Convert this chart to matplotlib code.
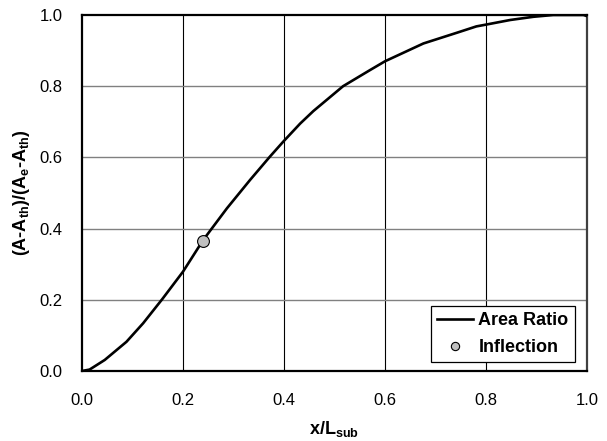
import matplotlib
matplotlib.use("Agg")
import matplotlib.pyplot as plt

plt.rcParams['font.family'] = ['Liberation Sans', 'DejaVu Sans']
plt.rcParams['mathtext.fontset'] = 'custom'
plt.rcParams['mathtext.rm'] = 'Liberation Sans:bold'
plt.rcParams['mathtext.it'] = 'Liberation Sans:bold'
plt.rcParams['mathtext.bf'] = 'Liberation Sans:bold'

# area ratio along the subsonic section
x_pos = [0.0, 0.015, 0.045, 0.088, 0.121, 0.159, 0.200, 0.240, 0.287, 0.333,
         0.372, 0.399, 0.432, 0.458, 0.517, 0.570, 0.600, 0.676, 0.742, 0.781,
         0.800, 0.848, 0.894, 0.933, 0.993, 1.0]
area_ratio = [0.0, 0.004, 0.031, 0.082, 0.134, 0.202, 0.279, 0.368, 0.457, 0.537,
              0.602, 0.645, 0.695, 0.730, 0.800, 0.845, 0.870, 0.920, 0.950, 0.968,
              0.973, 0.986, 0.995, 1.0, 1.0, 0.997]

# inflection point
infl_x = [0.240]
infl_y = [0.366]

ticks = [0.0, 0.2, 0.4, 0.6, 0.8, 1.0]
tick_labels = ['0.0', '0.2', '0.4', '0.6', '0.8', '1.0']

fig = plt.figure(figsize=(6.07, 4.41), dpi=100)
ax = fig.add_axes([82 / 607, 1 - 371 / 441, 505 / 607, 356 / 441])

# grid: vertical black, horizontal gray
for t in ticks[1:-1]:
    ax.axvline(t, color='black', lw=0.8, zorder=1)
for t in ticks[1:-1]:
    ax.axhline(t, color='#808080', lw=1.0, zorder=1)

ax.plot(x_pos, area_ratio, color='black', lw=1.9, label='Area Ratio', zorder=3)
ax.plot(infl_x, infl_y, ls='none', marker='o', ms=8.5, mfc='#c0c0c0',
        mec='black', mew=0.8, label='Inflection', zorder=4)

ax.set_xlim(0, 1)
ax.set_ylim(0, 1)
ax.set_xticks(ticks)
ax.set_xticklabels(tick_labels)
ax.set_yticks(ticks)
ax.set_yticklabels(tick_labels)
ax.tick_params(axis='both', length=0, labelsize=12)
ax.tick_params(axis='x', pad=16)
ax.tick_params(axis='y', pad=14)

for s in ax.spines.values():
    s.set_linewidth(1.6)
    s.set_color('black')
ax.spines['right'].set_color('#404040')

ax.set_xlabel(r'x/L$_{\mathbf{sub}}$', fontsize=13, fontweight='bold')
ax.set_ylabel(r'(A-A$_{\mathbf{th}}$)/(A$_{\mathbf{e}}$-A$_{\mathbf{th}}$)',
              fontsize=13, fontweight='bold')
ax.xaxis.set_label_coords(0.5, -0.135)
ax.yaxis.set_label_coords(-0.099, 0.5)

leg = ax.legend(loc='lower right', bbox_to_anchor=(0.976, 0.024), borderaxespad=0,
                fancybox=False, framealpha=1, edgecolor='black',
                prop={'weight': 'bold', 'size': 13}, handlelength=2.0,
                handletextpad=0.3, labelspacing=0.55, markerscale=0.7,
                borderpad=0.35)
leg.get_frame().set_linewidth(0.9)

fig.savefig('out.png', dpi=100)
